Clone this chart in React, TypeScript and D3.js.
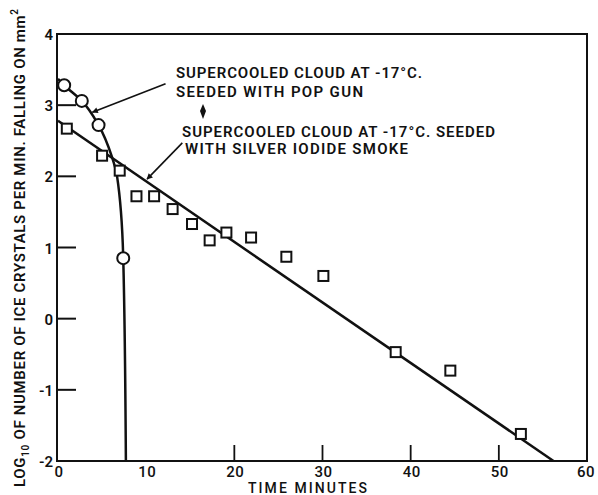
import React from 'react';
import * as d3 from 'd3';

const popGunTimes = [0.7, 2.7, 4.6, 7.4];
const popGunLogs = [3.28, 3.06, 2.72, 0.85];
// hand-drawn curve through the pop gun points
const popGunCurveT = [0, 0.7, 2.7, 4.6, 6.1, 6.7, 7.4, 7.7];
const popGunCurveY = [3.37, 3.28, 3.06, 2.72, 2.28, 2.0, 0.85, -2];

const iodideTimes = [1.0, 5.0, 7.0, 8.9, 10.9, 13.0, 15.2, 17.2, 19.1, 21.9, 25.9, 30.1, 38.3, 44.5, 52.5];
const iodideLogs = [2.67, 2.29, 2.08, 1.72, 1.72, 1.54, 1.33, 1.1, 1.21, 1.14, 0.87, 0.6, -0.47, -0.73, -1.62];
const iodideFitT = [0, 56.2];
const iodideFitY = [2.78, -2];

const xTicks = [0, 10, 20, 30, 40, 50, 60];
const xTickMarks = [20, 30, 40, 50];
const yTicks = [-2, -1, 0, 1, 2, 3, 4];
const yTickMarks = [-1, 0, 1, 2, 3];

const W = 598;
const H = 495;
const font = 'Roboto, "DejaVu Sans", sans-serif';

export default function App() {
  const x = d3.scaleLinear().domain([0, 60]).range([58, 587]);
  const y = d3.scaleLinear().domain([-2, 4]).range([461, 34]);

  const line = d3.line<[number, number]>().x(d => x(d[0])).y(d => y(d[1]));
  const popCurve = line.curve(d3.curveMonotoneY)(popGunCurveT.map((t, i) => [t, popGunCurveY[i]]));
  const fitLine = d3.line<[number, number]>().x(d => x(d[0])).y(d => y(d[1]))(
    iodideFitT.map((t, i) => [t, iodideFitY[i]])
  );

  // arrows: start and tip in data units
  const arrow1 = { x1: x(12.2), y1: y(3.3), x2: x(3.9), y2: y(2.9) };
  const arrow2 = { x1: x(14.1), y1: y(2.47), x2: x(10.1), y2: y(1.96) };

  return (
    <svg width={W} height={H} style={{ position: 'absolute', left: 0, top: 0, background: '#fff' }}>
      <defs>
        <marker id="head" viewBox="0 0 10 10" refX="9" refY="5" markerWidth="9" markerHeight="6" orient="auto" markerUnits="userSpaceOnUse">
          <path d="M0,0 L10,5 L0,10 z" fill="#111" />
        </marker>
      </defs>

      {/* frame */}
      <rect x={x(0) - 1} y={y(4)} width={x(60) - x(0) + 1} height={y(-2) - y(4)} fill="none" stroke="#111" strokeWidth={2} />

      {/* ticks */}
      {yTickMarks.map(v => (
        <line key={'yt' + v} x1={x(0)} x2={x(0) + 18} y1={y(v)} y2={y(v)} stroke="#111" strokeWidth={2} />
      ))}
      {xTickMarks.map(v => (
        <line key={'xt' + v} x1={x(v)} x2={x(v)} y1={y(-2)} y2={y(-2) - 16} stroke="#111" strokeWidth={1.8} />
      ))}

      {/* tick labels */}
      {yTicks.map(v => (
        <text key={'yl' + v} x={53} y={y(v) + 6} textAnchor="end" fontFamily={font} fontWeight={600} fontSize={15} fill="#111">
          {v < 0 ? '-' + Math.abs(v) : v}
        </text>
      ))}
      {xTicks.map(v => (
        <text key={'xl' + v} x={v === 60 ? x(v) - 1 : x(v) + 1} y={477} textAnchor="middle" fontFamily={font} fontWeight={500} fontSize={15} letterSpacing={0.5} fill="#111">
          {v}
        </text>
      ))}

      {/* axis titles */}
      <text x={248} y={493} fontFamily={font} fontWeight={500} fontSize={14} textLength={119} lengthAdjust="spacing" fill="#111">
        TIME MINUTES
      </text>
      <text transform="translate(25,248) rotate(-90)" textAnchor="middle" fontFamily={font} fontWeight={600} fontSize={15} textLength={478} lengthAdjust="spacing" fill="#111">
        LOG<tspan fontSize={10} dy={4}>10</tspan>
        <tspan dy={-4}> OF NUMBER OF ICE CRYSTALS PER MIN. FALLING ON mm</tspan>
        <tspan fontSize={10} dy={-7}>2</tspan>
      </text>

      {/* fitted lines */}
      <path d={popCurve || ''} fill="none" stroke="#111" strokeWidth={2.5} />
      <path d={fitLine || ''} fill="none" stroke="#111" strokeWidth={2.5} />

      {/* points */}
      {popGunTimes.map((t, i) => (
        <circle key={'c' + i} cx={x(t)} cy={y(popGunLogs[i])} r={6} fill="#fff" stroke="#111" strokeWidth={2} />
      ))}
      {iodideTimes.map((t, i) => (
        <rect key={'s' + i} x={x(t) - 5} y={y(iodideLogs[i]) - 5} width={10} height={10} fill="#fff" stroke="#111" strokeWidth={2} />
      ))}

      {/* annotations */}
      <line {...arrow1} stroke="#111" strokeWidth={1.6} markerEnd="url(#head)" />
      <line {...arrow2} stroke="#111" strokeWidth={1.6} markerEnd="url(#head)" />
      <g fontFamily={font} fontWeight={600} fontSize={15} fill="#111">
        <text x={176} y={78} textLength={246} lengthAdjust="spacing">SUPERCOOLED CLOUD AT -17°C.</text>
        <text x={176} y={97} textLength={187} lengthAdjust="spacing">SEEDED WITH POP GUN</text>
        <text x={182} y={137} textLength={313} lengthAdjust="spacing">SUPERCOOLED CLOUD AT -17°C. SEEDED</text>
        <text x={185} y={154} textLength={223} lengthAdjust="spacing">WITH SILVER IODIDE SMOKE</text>
      </g>
      <path d="M203,104 L206,111 L203,119 L200,111 Z" fill="#111" />
    </svg>
  );
}
